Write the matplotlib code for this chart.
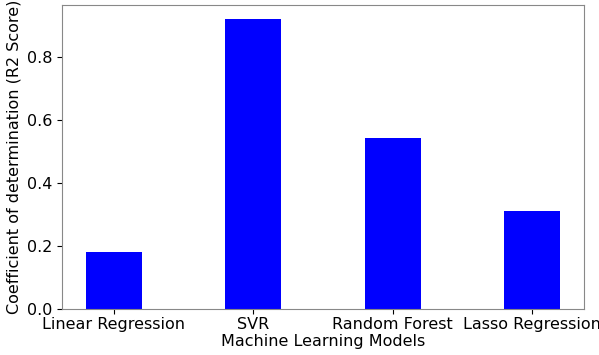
import matplotlib
matplotlib.use("Agg")
import matplotlib.pyplot as plt

models = ["Linear Regression", "SVR", "Random Forest", "Lasso Regression"]
r2_scores = [0.18, 0.92, 0.542, 0.311]

fig = plt.figure(figsize=(5.99, 3.55), dpi=100)
ax = fig.add_axes([0.1035, 0.1296, 0.8715, 0.8574])
ax.bar(models, r2_scores, color="blue", width=0.4)
ax.set_xlabel("Machine Learning Models", fontsize=11.5, labelpad=2)
ax.set_ylabel("Coefficient of determination (R2 Score)", fontsize=11.5)
ax.tick_params(labelsize=11.5)
ax.tick_params(axis="x", pad=2)
for s in ax.spines.values():
    s.set_color("#888888")
fig.savefig("out.png", dpi=100)
